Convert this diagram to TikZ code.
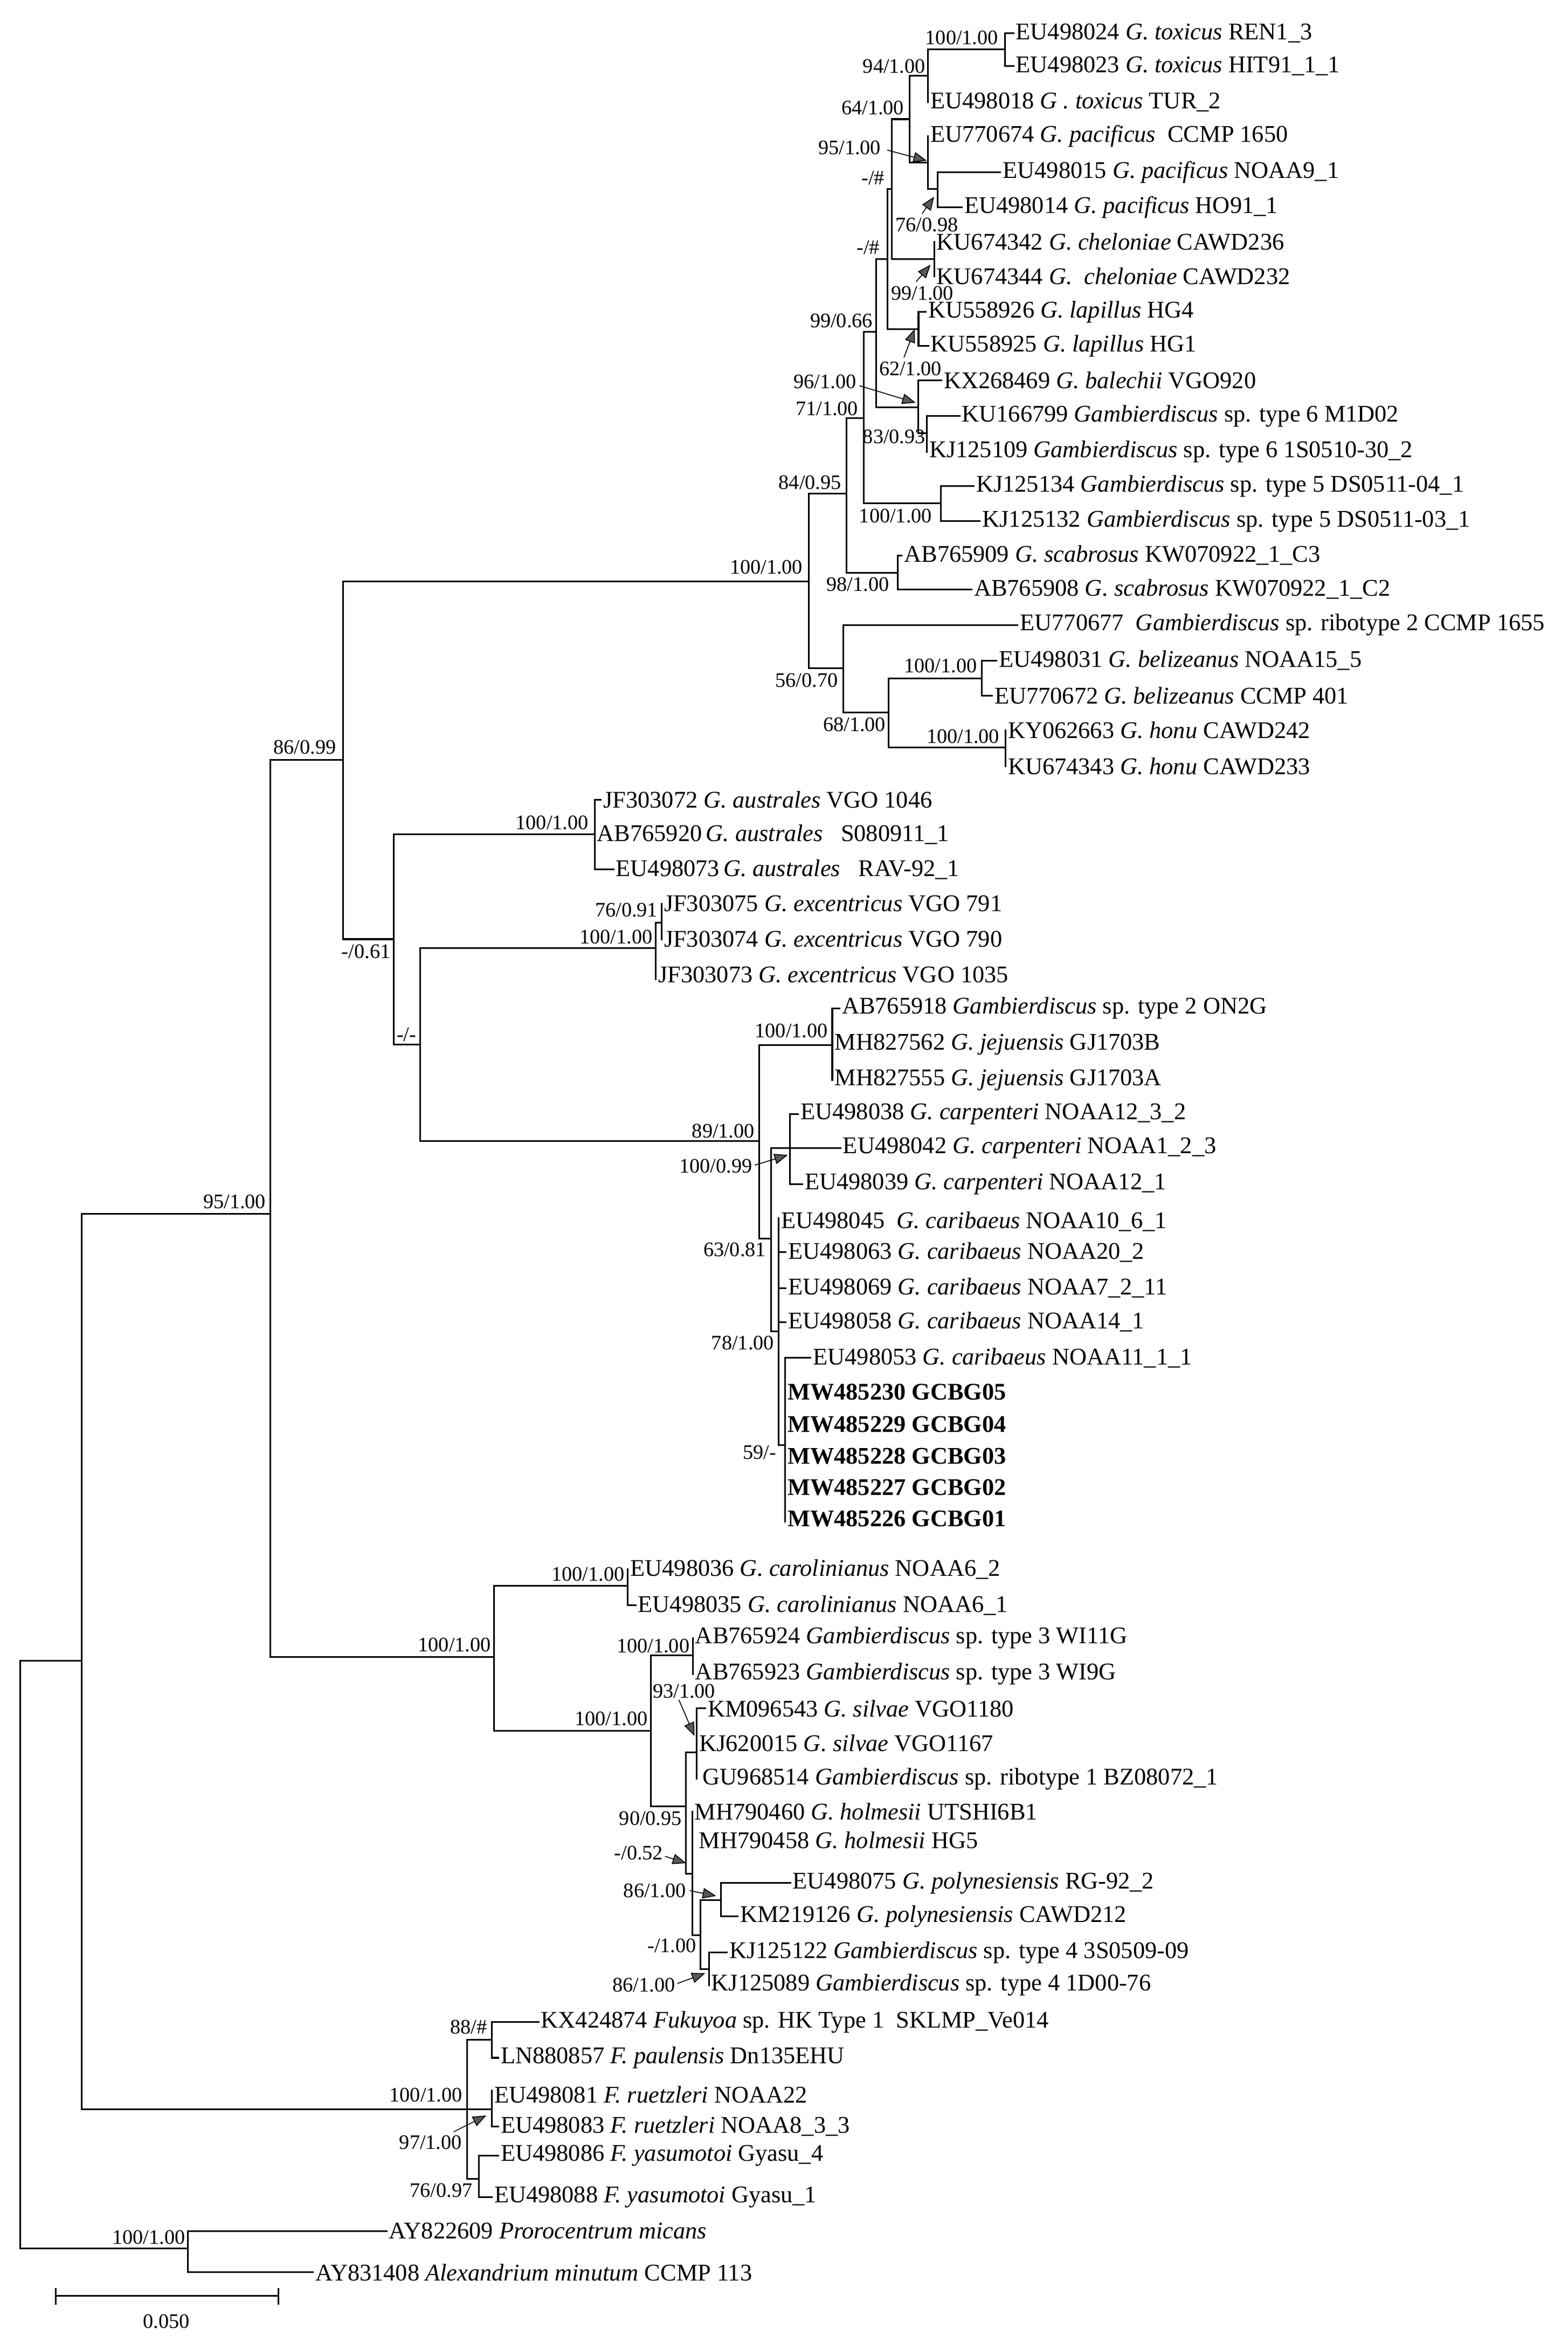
\documentclass[tikz,border=0pt]{standalone}
\usepackage{fontspec}
\setmainfont{Liberation Serif}
\usetikzlibrary{arrows.meta}
\tikzset{
 br/.style={line width=1.1pt,line cap=rect},
 leaf/.style={anchor=west,inner sep=1.5pt,font=\fontsize{16}{18}\selectfont},
 bsv/.style={anchor=east,inner sep=0pt,font=\fontsize{13.8}{15}\selectfont},
 bsw/.style={anchor=west,inner sep=0pt,font=\fontsize{13.8}{15}\selectfont},
 pt/.style={line width=0.6pt,-{Triangle[length=9pt,width=7pt,fill=black!65]}}
}
\newcommand\lf[4]{\node[leaf] (#1) at (#2,#3) {#4};}
\newcommand\bsl[4]{\node[bsv] (#1) at (#2,#3) {#4};}
\begin{document}
\begin{tikzpicture}[x=1pt,y=-1pt]
\useasboundingbox (0,0) rectangle (1049,1562.6);
% ---------- branches ----------
\draw[br] (13.5,1111)--(13.5,1503.9) (13.5,1111)--(54.7,1111) (13.5,1503.9)--(125.6,1503.9);
\draw[br] (125.6,1492.3)--(125.6,1520) (125.6,1492.3)--(258.6,1492.3) (125.6,1520)--(209.3,1520);
\draw[br] (54.7,812)--(54.7,1411) (54.7,812)--(180.7,812) (54.7,1411)--(312.5,1411);
\draw[br] (312.5,1364.4)--(312.5,1457.3) (312.5,1364.4)--(329,1364.4) (312.5,1411)--(329,1411) (312.5,1457.3)--(320.5,1457.3);
\draw[br] (329,1352.5)--(329,1376.5) (329,1352.5)--(360.3,1352.5) (329,1376.5)--(333.4,1376.5);
\draw[br] (329,1398.4)--(329,1422.4) (329,1422.4)--(333.4,1422.4);
\draw[br] (320.5,1442.1)--(320.5,1469.7) (320.5,1442.1)--(333.4,1442.1) (320.5,1469.7)--(329,1469.7);
\draw[br] (180.7,508.2)--(180.7,1108.3) (180.7,508.2)--(229.4,508.2) (180.7,1108.3)--(330.6,1108.3);
\draw[br] (229.4,389)--(229.4,628.2) (229.4,389)--(541,389) (229.4,628.2)--(263.6,628.2);
\draw[br] (541,330.2)--(541,447) (541,330.2)--(566.2,330.2) (541,447)--(564.3,447);
\draw[br] (566.2,279.6)--(566.2,383.3) (566.2,279.6)--(578,279.6) (566.2,383.3)--(600.5,383.3);
\draw[br] (600.5,371.6)--(600.5,394.3) (600.5,371.6)--(603.2,371.6) (600.5,394.3)--(650,394.3);
\draw[br] (578,222.1)--(578,336.5) (578,222.1)--(586.3,222.1) (578,336.5)--(629.5,336.5);
\draw[br] (629.5,325.1)--(629.5,348.6) (629.5,325.1)--(651.5,325.1) (629.5,348.6)--(655.6,348.6);
\draw[br] (586.3,173.3)--(586.3,272.5) (586.3,173.3)--(593.6,173.3) (586.3,272.5)--(614.2,272.5);
\draw[br] (614.2,254.3)--(614.2,289.7) (614.2,254.3)--(629.8,254.3) (614.2,289.7)--(620.1,289.7);
\draw[br] (620.1,278.3)--(620.1,302.3) (620.1,278.3)--(641.9,278.3);
\draw[br] (593.6,126.5)--(593.6,220.1) (593.6,126.5)--(596.8,126.5) (593.6,220.1)--(614.5,220.1);
\draw[br] (614.5,208.7)--(614.5,231.5) (614.5,208.7)--(619.3,208.7) (614.5,231.5)--(621,231.5);
\draw[br] (596.8,79.7)--(596.8,173.3) (596.8,79.7)--(608.5,79.7) (596.8,173.3)--(625,173.3);
\draw[br] (625,161.9)--(625,184.7);
\draw[br] (608.5,50.6)--(608.5,108.8) (608.5,50.6)--(620.9,50.6) (608.5,108.8)--(620.9,108.8);
\draw[br] (620.9,32.9)--(620.9,68.3) (620.9,32.9)--(672.5,32.9);
\draw[br] (672.5,22.3)--(672.5,44.3) (672.5,22.3)--(678,22.3) (672.5,44.3)--(678,44.3);
\draw[br] (620.9,91.1)--(620.9,126.5) (620.9,126.5)--(627.4,126.5);
\draw[br] (627.4,115.1)--(627.4,138.6) (627.4,115.1)--(669.3,115.1) (627.4,138.6)--(643.5,138.6);
\draw[br] (564.3,418)--(564.3,476.5) (564.3,418)--(680.8,418) (564.3,476.5)--(594.5,476.5);
\draw[br] (594.5,453.9)--(594.5,499.9) (594.5,453.9)--(656.8,453.9) (594.5,499.9)--(672.7,499.9);
\draw[br] (656.8,441.9)--(656.8,465.4) (656.8,441.9)--(666.7,441.9) (656.8,465.4)--(663.7,465.4);
\draw[br] (672.7,488.4)--(672.7,512.5);
\draw[br] (263.6,558.1)--(263.6,698.6) (263.6,558.1)--(397.8,558.1) (263.6,698.6)--(281.2,698.6);
\draw[br] (397.8,535)--(397.8,581.6) (397.8,535)--(402,535) (397.8,581.6)--(410.4,581.6);
\draw[br] (281.2,634)--(281.2,763.4) (281.2,634)--(438.8,634) (281.2,763.4)--(507.9,763.4);
\draw[br] (438.8,617.2)--(438.8,655) (438.8,617.2)--(442.6,617.2);
\draw[br] (442.6,604.5)--(442.6,628.2);
\draw[br] (507.9,698.9)--(507.9,828.7) (507.9,698.9)--(556.8,698.9) (507.9,828.7)--(515.7,828.7);
\draw[br] (556.8,674.4)--(556.8,722.5) (556.8,674.4)--(561.6,674.4);
\draw[br] (515.7,768)--(515.7,890.7) (515.7,768)--(528.5,768) (515.7,890.7)--(520.9,890.7);
\draw[br] (528.5,745.2)--(528.5,792.1) (528.5,745.2)--(534,745.2) (528.5,768)--(562.3,768) (528.5,792.1)--(536.8,792.1);
\draw[br] (520.9,814.8)--(520.9,966.6) (520.9,837.6)--(525.7,837.6) (520.9,861.6)--(525.7,861.6) (520.9,884.4)--(525.7,884.4) (520.9,966.6)--(525.3,966.6);
\draw[br] (525.3,908.4)--(525.3,1018) (525.3,908.4)--(542.3,908.4);
\draw[br] (330.6,1060.7)--(330.6,1157.8) (330.6,1060.7)--(420.1,1060.7) (330.6,1157.8)--(435.6,1157.8);
\draw[br] (420.1,1049.7)--(420.1,1073.8) (420.1,1073.8)--(425.2,1073.8);
\draw[br] (435.6,1107.2)--(435.6,1208.4) (435.6,1107.2)--(463.5,1107.2) (435.6,1208.4)--(459,1208.4);
\draw[br] (463.5,1095.7)--(463.5,1119.8);
\draw[br] (459,1172.2)--(459,1253.2) (459,1172.2)--(466.2,1172.2) (459,1253.2)--(463.1,1253.2);
\draw[br] (466.2,1142.8)--(466.2,1190) (466.2,1142.8)--(471.8,1142.8);
\draw[br] (463.1,1211.8)--(463.1,1294.6) (463.1,1294.6)--(468.7,1294.6);
\draw[br] (468.7,1271.1)--(468.7,1317.1) (468.7,1271.1)--(482.2,1271.1) (468.7,1317.1)--(474.3,1317.1);
\draw[br] (482.2,1259.6)--(482.2,1281.9) (482.2,1259.6)--(528.7,1259.6) (482.2,1281.9)--(493.6,1281.9);
\draw[br] (474.3,1306.1)--(474.3,1327.9) (474.3,1306.1)--(486.3,1306.1);
% ---------- leaves ----------
\lf{l1}{678}{22.3}{EU498024 \textit{G. toxicus} REN1\_3}
\lf{l2}{678}{44.3}{EU498023 \textit{G. toxicus} HIT91\_1\_1}
\lf{l3}{620.9}{68.3}{EU498018 \textit{G . toxicus} TUR\_2}
\lf{l4}{620.9}{91.1}{EU770674 \textit{G. pacificus}\ \ CCMP 1650}
\lf{l5}{669.3}{115.1}{EU498015 \textit{G. pacificus} NOAA9\_1}
\lf{l6}{643.5}{138.6}{EU498014 \textit{G. pacificus} HO91\_1}
\lf{l7}{625}{161.9}{KU674342 \textit{G. cheloniae} CAWD236}
\lf{l8}{625}{184.7}{KU674344 \textit{G.\ \ cheloniae} CAWD232}
\lf{l9}{619.3}{208.7}{KU558926 \textit{G. lapillus} HG4}
\lf{l10}{621}{231.5}{KU558925 \textit{G. lapillus} HG1}
\lf{l11}{629.8}{254.3}{KX268469 \textit{G. balechii} VGO920}
\lf{l12}{641.9}{278.3}{KU166799 \textit{Gambierdiscus} sp. type 6 M1D02}
\lf{l13}{620.1}{302.3}{KJ125109 \textit{Gambierdiscus} sp. type 6 1S0510-30\_2}
\lf{l14}{651.5}{325.1}{KJ125134 \textit{Gambierdiscus} sp. type 5 DS0511-04\_1}
\lf{l15}{655.6}{348.6}{KJ125132 \textit{Gambierdiscus} sp. type 5 DS0511-03\_1}
\lf{l16}{603.2}{371.6}{AB765909 \textit{G. scabrosus} KW070922\_1\_C3}
\lf{l17}{650}{394.3}{AB765908 \textit{G. scabrosus} KW070922\_1\_C2}
\lf{l18}{680.8}{418}{EU770677\ \ \textit{Gambierdiscus} sp. ribotype 2 CCMP 1655}
\lf{l19}{666.7}{441.9}{EU498031 \textit{G. belizeanus} NOAA15\_5}
\lf{l20}{663.7}{465.4}{EU770672 \textit{G. belizeanus} CCMP 401}
\lf{l21}{672.7}{488.4}{KY062663 \textit{G. honu} CAWD242}
\lf{l22}{672.7}{512.5}{KU674343 \textit{G. honu} CAWD233}
\lf{l23}{402}{535}{JF303072 \textit{G. australes} VGO 1046}
\lf{l24}{397.8}{558.1}{AB765920\,\textit{G. australes}\ \ \ S080911\_1}
\lf{l25}{410.4}{581.6}{EU498073\,\textit{G. australes}\ \ \ RAV-92\_1}
\lf{l26}{442.6}{604.5}{JF303075 \textit{G. excentricus} VGO 791}
\lf{l27}{442.6}{628.2}{JF303074 \textit{G. excentricus} VGO 790}
\lf{l28}{438.8}{652}{JF303073 \textit{G. excentricus} VGO 1035}
\lf{l29}{561.6}{674.4}{AB765918 \textit{Gambierdiscus} sp. type 2 ON2G}
\lf{l30}{556.8}{698.6}{MH827562 \textit{G. jejuensis} GJ1703B}
\lf{l31}{556.8}{722.5}{MH827555 \textit{G. jejuensis} GJ1703A}
\lf{l32}{534}{745.2}{EU498038 \textit{G. carpenteri} NOAA12\_3\_2}
\lf{l33}{562.3}{768}{EU498042 \textit{G. carpenteri} NOAA1\_2\_3}
\lf{l34}{536.8}{792.1}{EU498039 \textit{G. carpenteri} NOAA12\_1}
\lf{l35}{520.9}{817}{EU498045\ \ \textit{G. caribaeus} NOAA10\_6\_1}
\lf{l36}{525.7}{837.6}{EU498063 \textit{G. caribaeus} NOAA20\_2}
\lf{l37}{525.7}{861.6}{EU498069 \textit{G. caribaeus} NOAA7\_2\_11}
\lf{l38}{525.7}{884.4}{EU498058 \textit{G. caribaeus} NOAA14\_1}
\lf{l39}{542.3}{908.4}{EU498053 \textit{G. caribaeus} NOAA11\_1\_1}
\lf{l40}{525.3}{931.2}{\textbf{MW485230 GCBG05}}
\lf{l41}{525.3}{952.7}{\textbf{MW485229 GCBG04}}
\lf{l42}{525.3}{974.2}{\textbf{MW485228 GCBG03}}
\lf{l43}{525.3}{995}{\textbf{MW485227 GCBG02}}
\lf{l44}{525.3}{1016}{\textbf{MW485226 GCBG01}}
\lf{l45}{420.1}{1049.7}{EU498036 \textit{G. carolinianus} NOAA6\_2}
\lf{l46}{425.2}{1073.8}{EU498035 \textit{G. carolinianus} NOAA6\_1}
\lf{l47}{463.5}{1095.7}{AB765924 \textit{Gambierdiscus} sp. type 3 WI11G}
\lf{l48}{463.5}{1119.8}{AB765923 \textit{Gambierdiscus} sp. type 3 WI9G}
\lf{l49}{471.8}{1142.8}{KM096543 \textit{G. silvae} VGO1180}
\lf{l50}{466.2}{1166}{KJ620015 \textit{G. silvae} VGO1167}
\lf{l51}{468.5}{1190}{GU968514 \textit{Gambierdiscus} sp. ribotype 1 BZ08072\_1}
\lf{l52}{463.1}{1211.8}{MH790460 \textit{G. holmesii} UTSHI6B1}
\lf{l53}{466}{1231}{MH790458 \textit{G. holmesii} HG5}
\lf{l54}{528.7}{1259.6}{EU498075 \textit{G. polynesiensis} RG-92\_2}
\lf{l55}{493.6}{1281.9}{KM219126 \textit{G. polynesiensis} CAWD212}
\lf{l56}{486.3}{1306.1}{KJ125122 \textit{Gambierdiscus} sp. type 4 3S0509-09}
\lf{l57}{474.3}{1327.9}{KJ125089 \textit{Gambierdiscus} sp. type 4 1D00-76}
\lf{l58}{360.3}{1352.5}{KX424874 \textit{Fukuyoa} sp. HK Type 1\ \ SKLMP\_Ve014}
\lf{l59}{333.4}{1376.5}{LN880857 \textit{F. paulensis} Dn135EHU}
\lf{l60}{329}{1401}{EU498081 \textit{F. ruetzleri} NOAA22}
\lf{l61}{333.4}{1422.4}{EU498083 \textit{F. ruetzleri} NOAA8\_3\_3}
\lf{l62}{333.4}{1442.1}{EU498086 \textit{F. yasumotoi} Gyasu\_4}
\lf{l63}{329}{1469.7}{EU498088 \textit{F. yasumotoi} Gyasu\_1}
\lf{l64}{258.6}{1492.3}{AY822609 \textit{Prorocentrum micans}}
\lf{l65}{209.3}{1520}{AY831408 \textit{Alexandrium minutum} CCMP 113}
% ---------- support values ----------
\bsl{s1}{668}{25.3}{100/1.00}
\bsl{s2}{619.3}{44.3}{94/1.00}
\bsl{s3}{605}{72}{64/1.00}
\bsl{s4}{589.5}{98.7}{95/1.00}
\bsl{s5}{592}{119}{-/\#}
\node[bsw] (s6) at (599,150.5) {76/0.98};
\bsl{s7}{588.7}{165.7}{-/\#}
\node[bsw] (s8) at (596,196.1) {99/1.00};
\bsl{s9}{584}{214.5}{99/0.66}
\node[bsw] (s10) at (588,246.7) {62/1.00};
\node[bsw] (s11) at (530.8,255.5) {96/1.00};
\bsl{s12}{574.3}{273.2}{71/1.00}
\bsl{s13}{619.3}{292}{83/0.93}
\bsl{s14}{563}{322.6}{84/0.95}
\bsl{s15}{623.7}{345.3}{100/1.00}
\bsl{s16}{537.2}{379.5}{100/1.00}
\bsl{s17}{595}{390.9}{98/1.00}
\bsl{s18}{560.8}{455.2}{56/0.70}
\bsl{s19}{592.7}{484.8}{68/1.00}
\bsl{s20}{653.8}{445.5}{100/1.00}
\bsl{s21}{668.8}{492.6}{100/1.00}
\bsl{s22}{225}{499.9}{86/0.99}
\bsl{s23}{393.9}{550.4}{100/1.00}
\bsl{s24}{261.4}{636.5}{-/0.61}
\bsl{s25}{440.2}{608.9}{76/0.91}
\bsl{s26}{436.7}{626.9}{100/1.00}
\bsl{s27}{278.7}{692}{-/-}
\bsl{s28}{554}{689.6}{100/1.00}
\bsl{s29}{505}{756.6}{89/1.00}
\node[bsw] (s30) at (454.4,780.2) {100/0.99};
\bsl{s31}{512.6}{836}{63/0.81}
\bsl{s32}{518}{898.3}{78/1.00}
\bsl{s33}{519.5}{971.7}{59/-}
\bsl{s34}{418}{1053}{100/1.00}
\bsl{s35}{328.6}{1100.3}{100/1.00}
\bsl{s36}{461.5}{1101}{100/1.00}
\bsl{s37}{433.5}{1149.7}{100/1.00}
\node[bsw] (s38) at (436.6,1131.3) {93/1.00};
\bsl{s39}{456.3}{1216.4}{90/0.95}
\node[bsw] (s40) at (410.8,1239.4) {-/0.52};
\node[bsw] (s41) at (417,1264.7) {86/1.00};
\bsl{s42}{466}{1301.5}{-/1.00}
\node[bsw] (s43) at (409.7,1328) {86/1.00};
\bsl{s44}{178}{804}{95/1.00}
\bsl{s45}{326}{1356}{88/\#}
\bsl{s46}{309.5}{1401.3}{100/1.00}
\node[bsw] (s47) at (267,1433.3) {97/1.00};
\bsl{s48}{316.3}{1465.3}{76/0.97}
\bsl{s49}{124}{1496.7}{100/1.00}
% ---------- pointer arrows ----------
\coordinate (p4) at (620.1,107.5);
\coordinate (p6) at (625,131.6);
\coordinate (p8) at (622.6,177.1);
\coordinate (p10) at (612,220.1);
\coordinate (p11) at (612.6,269.4);
\coordinate (p30) at (527.1,772.6);
\coordinate (p38) at (464.6,1161.2);
\coordinate (p40) at (459,1246.3);
\coordinate (p41) at (479.1,1268.2);
\coordinate (p43) at (471.8,1319.9);
\coordinate (p47) at (325.3,1415.1);
\draw[pt] (593.6,100.4) -- (p4);
\draw[pt] (616.9,143) -- (p6);
\draw[pt] (612.9,188.5) -- (p8);
\draw[pt] (604.8,239.1) -- (p10);
\draw[pt] (575,258) -- (p11);
\draw[pt] (505,779.4) -- (p30);
\draw[pt] (454.2,1137) -- (p38);
\draw[pt] (444.9,1241.7) -- (p40);
\draw[pt] (461.5,1264.7) -- (p41);
\draw[pt] (453.2,1326.8) -- (p43);
\draw[pt] (303.5,1426) -- (p47);
% ---------- scale bar ----------
\draw[br] (37.4,1535.7) -- (186.3,1535.7) (37.4,1530.9) -- (37.4,1541) (186.3,1530.9) -- (186.3,1541);
\node[font=\fontsize{13.8}{15}\selectfont] (sc) at (111.2,1552.7) {0.050};
\end{tikzpicture}
\end{document}
